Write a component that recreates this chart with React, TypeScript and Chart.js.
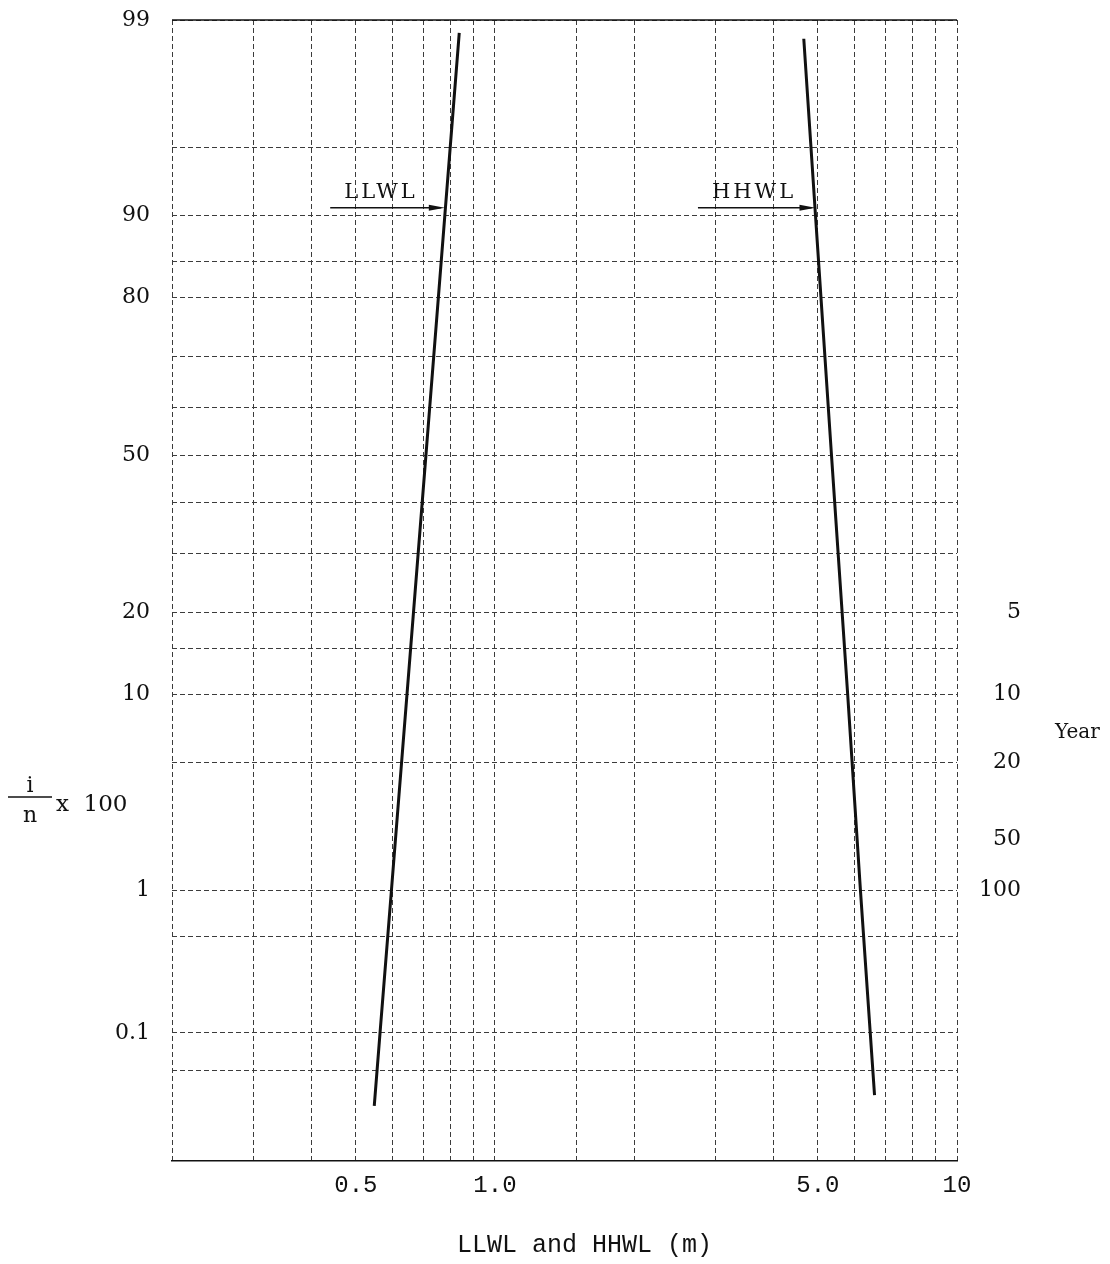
import React, { useEffect, useRef } from 'react';
import { Chart, registerables } from 'chart.js';

Chart.register(...registerables);

// ---- Probability (normal probability paper) axis, values in percent ----
const probGridLines = [99, 95, 90, 85, 80, 70, 60, 50, 40, 30, 20, 15, 10, 5, 1, 0.5, 0.1, 0.05];
const probTickLabels = [99, 90, 80, 50, 20, 10, 1, 0.1];
const probMin = 0.008;
const probMax = 99;

// ---- Return period axis (years) on the right ----
const returnYears = [5, 10, 20, 50, 100];

// ---- Water level axis (log, m) ----
const levelGridLines = [0.2, 0.3, 0.4, 0.5, 0.6, 0.7, 0.8, 0.9, 1, 1.5, 2, 3, 4, 5, 6, 7, 8, 9, 10];
const levelTickValues = [0.5, 1, 5, 10];
const levelTickLabels = ['0.5', '1.0', '5.0', '10'];
const levelMin = 0.2;
const levelMax = 10;

// ---- Series ----
const llwlProb = [98.8, 90, 50, 10, 1, 0.1, 0.025];
const llwlLevel = [0.837, 0.779, 0.709, 0.645, 0.597, 0.564, 0.548];
const hhwlProb = [98.7, 90, 50, 10, 1, 0.1, 0.031];
const hhwlLevel = [4.66, 4.94, 5.35, 5.8, 6.18, 6.49, 6.63];

// ---- Annotations ----
const seriesNames = ['LLWL', 'HHWL'];
const labelArrowStart = [0.44, 2.75];
const labelArrowProb = 90.7;

const xTitle = 'LLWL and HHWL (m)';
const rightTitle = 'Year';

// inverse standard normal CDF (Acklam)
function normInv(p: number): number {
  const a = [-3.969683028665376e1, 2.209460984245205e2, -2.759285104469687e2, 1.38357751867269e2, -3.066479806614716e1, 2.506628277459239];
  const b = [-5.447609879822406e1, 1.615858368580409e2, -1.556989798598866e2, 6.680131188771972e1, -1.328068155288572e1];
  const c = [-7.784894002430293e-3, -3.223964580411365e-1, -2.400758277161838, -2.549732539343734, 4.374664141464968, 2.938163982698783];
  const d = [7.784695709041462e-3, 3.224671290700398e-1, 2.445134137142996, 3.754408661907416];
  const plow = 0.02425;
  const phigh = 1 - plow;
  let q: number, r: number;
  if (p < plow) {
    q = Math.sqrt(-2 * Math.log(p));
    return (((((c[0] * q + c[1]) * q + c[2]) * q + c[3]) * q + c[4]) * q + c[5]) / ((((d[0] * q + d[1]) * q + d[2]) * q + d[3]) * q + 1);
  }
  if (p <= phigh) {
    q = p - 0.5;
    r = q * q;
    return ((((((a[0] * r + a[1]) * r + a[2]) * r + a[3]) * r + a[4]) * r + a[5]) * q) / (((((b[0] * r + b[1]) * r + b[2]) * r + b[3]) * r + b[4]) * r + 1);
  }
  q = Math.sqrt(-2 * Math.log(1 - p));
  return -(((((c[0] * q + c[1]) * q + c[2]) * q + c[3]) * q + c[4]) * q + c[5]) / ((((d[0] * q + d[1]) * q + d[2]) * q + d[3]) * q + 1);
}
const z = (percent: number) => normInv(percent / 100);

const INK = '#111';
const GRID = '#3c3c3c';
const GRID_DASH = [5, 3];

const decorPlugin = {
  id: 'decor',
  afterDraw(chart: any) {
    const { ctx, chartArea, scales } = chart;
    const xs = scales.x;
    const ys = scales.y;
    ctx.save();
    // solid top frame line (99 %)
    ctx.strokeStyle = INK;
    ctx.lineWidth = 1.5;
    ctx.beginPath();
    ctx.moveTo(chartArea.left, chartArea.top);
    ctx.lineTo(chartArea.right, chartArea.top);
    ctx.stroke();

    // series labels with arrows
    const series = [llwlLevel, hhwlLevel];
    seriesNames.forEach((name, i) => {
      const x0 = xs.getPixelForValue(labelArrowStart[i]);
      const x1 = xs.getPixelForValue(series[i][1]);
      const yy = ys.getPixelForValue(z(labelArrowProb));
      ctx.strokeStyle = INK;
      ctx.lineWidth = 1.5;
      ctx.beginPath();
      ctx.moveTo(x0, yy);
      ctx.lineTo(x1 - 4, yy);
      ctx.stroke();
      ctx.fillStyle = INK;
      ctx.beginPath();
      ctx.moveTo(x1, yy);
      ctx.lineTo(x1 - 16, yy - 3);
      ctx.lineTo(x1 - 16, yy + 3);
      ctx.closePath();
      ctx.fill();
      ctx.font = '21px "DejaVu Serif"';
      (ctx as any).letterSpacing = '3px';
      ctx.textAlign = 'left';
      ctx.textBaseline = 'alphabetic';
      ctx.fillText(name, x0 + 14, yy - 10);
      (ctx as any).letterSpacing = '0px';
    });

    // left axis title: i/n x 100
    ctx.fillStyle = INK;
    ctx.font = '22px "DejaVu Serif"';
    ctx.textAlign = 'center';
    ctx.textBaseline = 'alphabetic';
    ctx.fillText('i', 30, 792);
    ctx.fillText('n', 30, 822);
    ctx.strokeStyle = INK;
    ctx.lineWidth = 1.5;
    ctx.beginPath();
    ctx.moveTo(8, 797);
    ctx.lineTo(52, 797);
    ctx.stroke();
    ctx.textAlign = 'left';
    ctx.font = '23px "DejaVu Serif"';
    ctx.fillText('x  100', 56, 811);

    // right axis title
    ctx.font = '20px "DejaVu Serif"';
    ctx.textAlign = 'left';
    ctx.textBaseline = 'middle';
    ctx.fillText(rightTitle, 1055, 733);

    // x axis title
    ctx.font = '25px "Liberation Mono"';
    ctx.textAlign = 'center';
    ctx.textBaseline = 'middle';
    ctx.fillText(xTitle, (chartArea.left + chartArea.right) / 2 + 20, 1245);
    ctx.restore();
  },
};

export default function App() {
  const canvasRef = useRef<HTMLCanvasElement | null>(null);

  useEffect(() => {
    const canvas = canvasRef.current;
    if (!canvas) return;
    const yMin = z(probMin);
    const yMax = z(probMax);

    const lineStyle = {
      borderColor: INK,
      borderWidth: 3,
      pointRadius: 0,
      tension: 0,
      fill: false,
      xAxisID: 'x',
      yAxisID: 'y',
    };

    const chart = new Chart(canvas, {
      type: 'line',
      data: {
        datasets: [
          { label: seriesNames[0], data: llwlLevel.map((v, i) => ({ x: v, y: z(llwlProb[i]) })), ...lineStyle },
          { label: seriesNames[1], data: hhwlLevel.map((v, i) => ({ x: v, y: z(hhwlProb[i]) })), ...lineStyle },
        ],
      },
      options: {
        responsive: false,
        animation: false,
        devicePixelRatio: 1,
        layout: { padding: { top: 20, right: 89, bottom: 0, left: 0 } },
        plugins: {
          legend: { display: false },
          tooltip: { enabled: false },
          title: { display: false },
        },
        scales: {
          x: {
            type: 'logarithmic',
            position: 'bottom',
            min: levelMin,
            max: levelMax,
            afterBuildTicks: (s: any) => {
              s.ticks = levelGridLines.map((v) => ({ value: v }));
            },
            afterFit: (s: any) => {
              s.height = 103;
            },
            ticks: {
              autoSkip: false,
              maxRotation: 0,
              padding: 10,
              color: INK,
              font: { family: '"Liberation Mono"', size: 24 },
              callback: (v: any) => {
                const i = levelTickValues.indexOf(Number(v));
                return i >= 0 ? levelTickLabels[i] : '';
              },
            },
            grid: { color: GRID, lineWidth: 1, drawTicks: false },
            border: { display: true, color: INK, width: 1.5, dash: GRID_DASH },
          },
          y: {
            type: 'linear',
            position: 'left',
            min: yMin,
            max: yMax,
            afterBuildTicks: (s: any) => {
              s.ticks = probGridLines.map((p) => ({ value: z(p) }));
            },
            afterFit: (s: any) => {
              s.width = 172;
            },
            ticks: {
              autoSkip: false,
              padding: 0,
              color: INK,
              font: { family: '"DejaVu Serif"', size: 22 },
              callback: (_v: any, i: number) =>
                probTickLabels.includes(probGridLines[i]) ? String(probGridLines[i]) : '',
            },
            grid: { color: GRID, lineWidth: 1, drawTicks: true, tickLength: 22, tickColor: 'rgba(0,0,0,0)' },
            border: { display: false, dash: GRID_DASH },
          },
          y2: {
            type: 'linear',
            position: 'right',
            min: yMin,
            max: yMax,
            afterBuildTicks: (s: any) => {
              s.ticks = returnYears.map((T) => ({ value: z(100 / T) }));
            },
            afterFit: (s: any) => {
              s.width = 64;
            },
            ticks: {
              autoSkip: false,
              crossAlign: 'far',
              padding: 0,
              color: INK,
              font: { family: '"DejaVu Serif"', size: 22 },
              callback: (_v: any, i: number) => String(returnYears[i]),
            },
            grid: { display: false, drawTicks: false },
            border: { display: false },
          },
        },
      },
      plugins: [decorPlugin],
    } as any);

    return () => chart.destroy();
  }, []);

  return (
    <div style={{ position: 'fixed', left: 0, top: 0, width: 1110, height: 1264, background: '#fff' }}>
      <canvas ref={canvasRef} width={1110} height={1264} style={{ display: 'block' }} />
    </div>
  );
}
